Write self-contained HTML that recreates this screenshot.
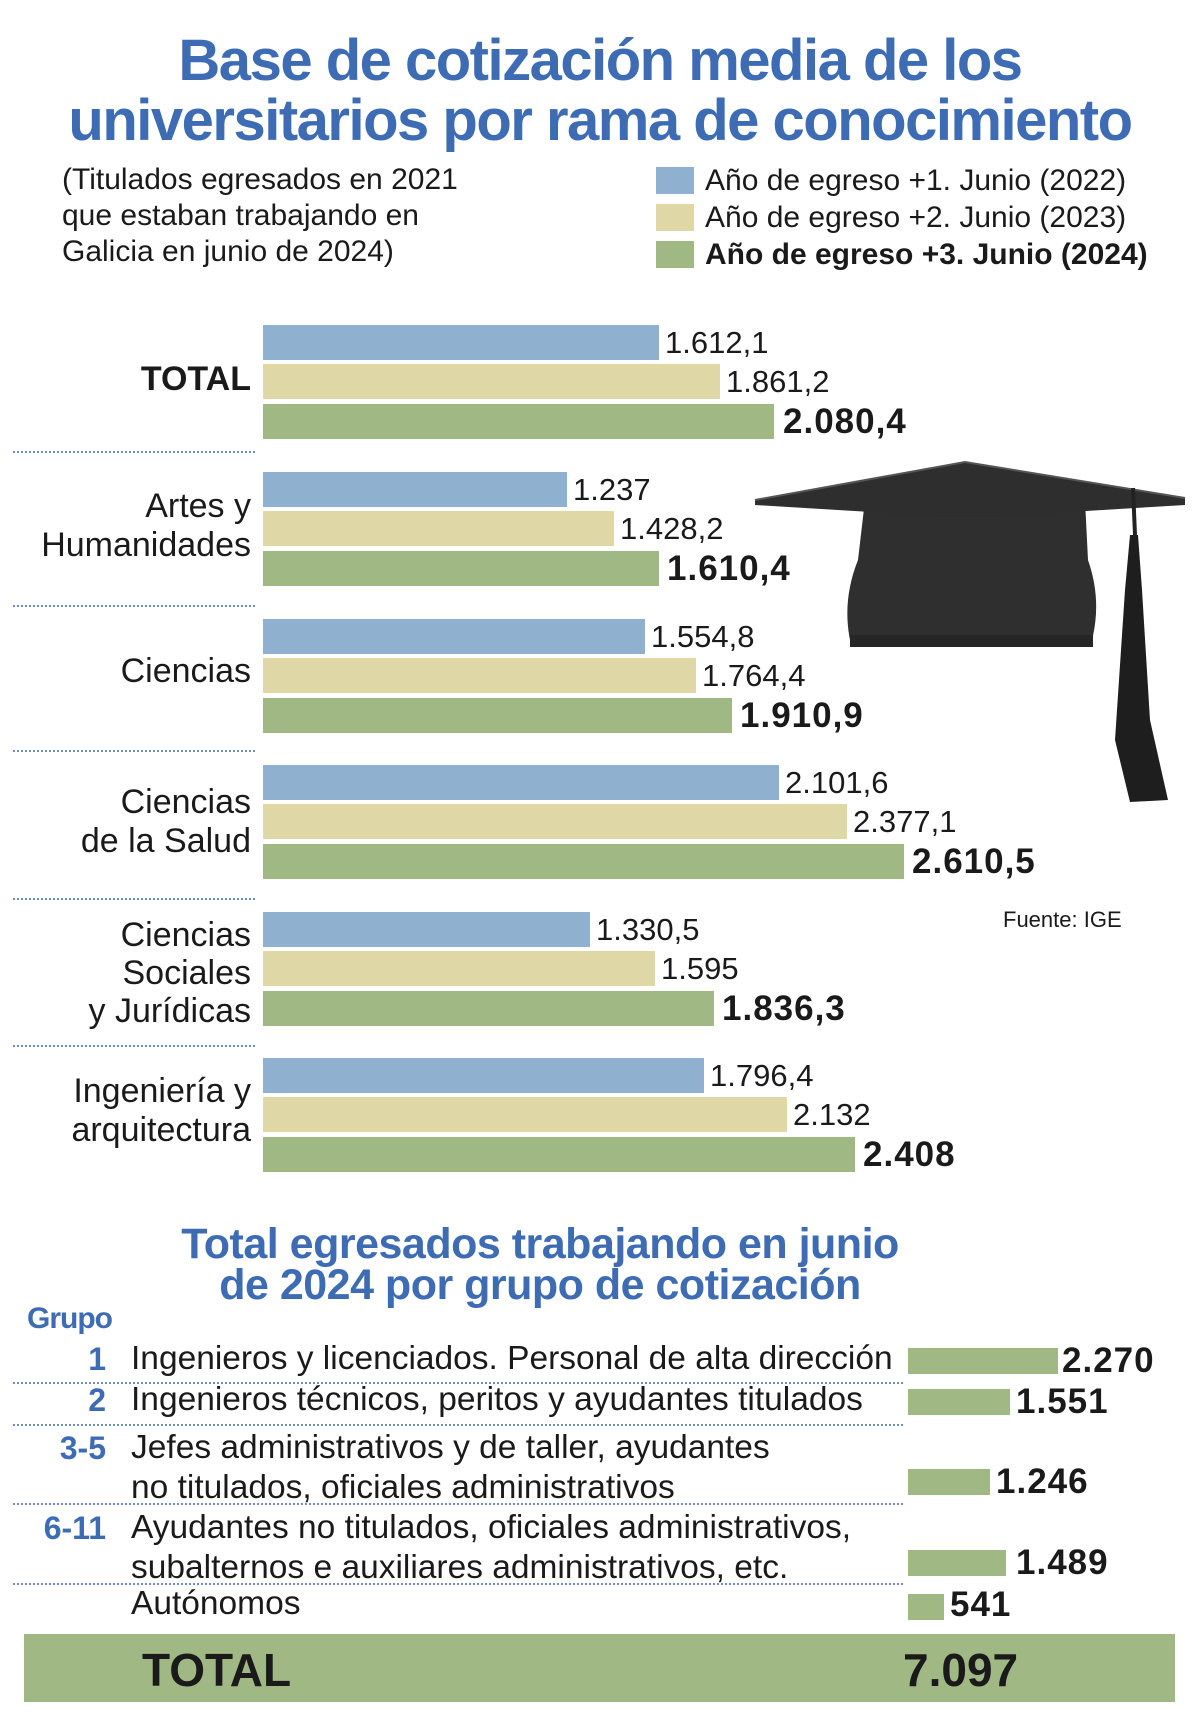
<!DOCTYPE html>
<html><head><meta charset="utf-8"><style>
body{margin:0;width:1200px;height:1715px;background:#fff;position:relative;overflow:hidden;font-family:"Liberation Sans",sans-serif;color:#1a1a1a}
.a{position:absolute;white-space:nowrap}
.t{color:#3d6cb4;font-weight:bold;transform-origin:center}
.bar{position:absolute;height:35px}
.b{background:#8fb0cf}.y{background:#e0d7a6}.g{background:#a0b883}
.v{position:absolute;font-size:31px;line-height:35px}
.vb{font-weight:bold;font-size:35px;letter-spacing:1px}
.lab{position:absolute;right:949px;text-align:right;font-size:34px;line-height:39px}
.dot{position:absolute;left:13px;border-top:2px dotted #6b8fc4;height:0}
.n{position:absolute;right:1094px;color:#3d6cb4;font-weight:bold;font-size:32px}
.tx{position:absolute;left:131px;font-size:33.5px}
.gb{position:absolute;left:908px;height:26px;background:#a0b883}
.gv{position:absolute;font-size:35px;font-weight:bold;line-height:30px;letter-spacing:1px}
</style></head><body>
<div class="a t" style="left:0;width:1200px;text-align:center;top:27px;font-size:58px;letter-spacing:-1.5px">Base de cotización media de los</div>
<div class="a t" style="left:0;width:1200px;text-align:center;top:87px;font-size:58px;letter-spacing:-1.5px">universitarios por rama de conocimiento</div>
<div class="a" style="left:62px;top:162px;font-size:30px;line-height:36px">(Titulados egresados en 2021<br>que estaban trabajando en<br>Galicia en junio de 2024)</div>
<div class="a" style="left:656px;top:167px;width:38px;height:27px;background:#8fb0cf"></div>
<div class="a" style="left:656px;top:204px;width:38px;height:27px;background:#e0d7a6"></div>
<div class="a" style="left:656px;top:241px;width:38px;height:27px;background:#a0b883"></div>
<div class="a" style="left:705px;top:162px;font-size:30px;line-height:37px">Año de egreso +1. Junio (2022)<br>Año de egreso +2. Junio (2023)<br><b>Año de egreso +3. Junio (2024)</b></div>

<div class="bar b" style="left:263px;top:325px;width:396px"></div><div class="v" style="left:665px;top:325px">1.612,1</div>
<div class="bar y" style="left:263px;top:364px;width:457px"></div><div class="v" style="left:726px;top:364px">1.861,2</div>
<div class="bar g" style="left:263px;top:404px;width:511px"></div><div class="v vb" style="left:783px;top:404px">2.080,4</div>
<div class="lab" style="top:360px;font-weight:bold">TOTAL</div>
<div class="dot" style="top:451px;width:242px"></div>

<div class="bar b" style="left:263px;top:472px;width:304px"></div><div class="v" style="left:573px;top:472px">1.237</div>
<div class="bar y" style="left:263px;top:511px;width:351px"></div><div class="v" style="left:620px;top:511px">1.428,2</div>
<div class="bar g" style="left:263px;top:551px;width:396px"></div><div class="v vb" style="left:667px;top:551px">1.610,4</div>
<div class="lab" style="top:487px">Artes y<br>Humanidades</div>
<div class="dot" style="top:605px;width:242px"></div>

<div class="bar b" style="left:263px;top:619px;width:382px"></div><div class="v" style="left:651px;top:619px">1.554,8</div>
<div class="bar y" style="left:263px;top:658px;width:433px"></div><div class="v" style="left:702px;top:658px">1.764,4</div>
<div class="bar g" style="left:263px;top:698px;width:469px"></div><div class="v vb" style="left:740px;top:698px">1.910,9</div>
<div class="lab" style="top:652px">Ciencias</div>
<div class="dot" style="top:750px;width:242px"></div>

<div class="bar b" style="left:263px;top:765px;width:516px"></div><div class="v" style="left:785px;top:765px">2.101,6</div>
<div class="bar y" style="left:263px;top:804px;width:584px"></div><div class="v" style="left:853px;top:804px">2.377,1</div>
<div class="bar g" style="left:263px;top:844px;width:641px"></div><div class="v vb" style="left:912px;top:844px">2.610,5</div>
<div class="lab" style="top:783px">Ciencias<br>de la Salud</div>
<div class="dot" style="top:898px;width:242px"></div>

<div class="bar b" style="left:263px;top:912px;width:327px"></div><div class="v" style="left:596px;top:912px">1.330,5</div>
<div class="bar y" style="left:263px;top:951px;width:392px"></div><div class="v" style="left:661px;top:951px">1.595</div>
<div class="bar g" style="left:263px;top:991px;width:451px"></div><div class="v vb" style="left:722px;top:991px">1.836,3</div>
<div class="lab" style="top:916px;line-height:38px">Ciencias<br>Sociales<br>y Jurídicas</div>
<div class="dot" style="top:1045px;width:242px"></div>

<div class="bar b" style="left:263px;top:1058px;width:441px"></div><div class="v" style="left:710px;top:1058px">1.796,4</div>
<div class="bar y" style="left:263px;top:1097px;width:524px"></div><div class="v" style="left:793px;top:1097px">2.132</div>
<div class="bar g" style="left:263px;top:1137px;width:592px"></div><div class="v vb" style="left:863px;top:1137px">2.408</div>
<div class="lab" style="top:1072px">Ingeniería y<br>arquitectura</div>

<div class="a" style="left:1003px;top:907px;font-size:22px">Fuente: IGE</div>

<svg class="a" style="left:740px;top:440px" width="460" height="420" viewBox="0 0 460 420">
<path d="M125,60 L345,60 L348,120 Q362,160 352,200 L110,200 Q102,160 118,120 Z" fill="#2f2f2f"/>
<rect x="110" y="195" width="243" height="12" fill="#262626"/>
<path d="M15,60 L225,22 L445,58 L445,65 L230,78 L15,65 Z" fill="#2e2e2e"/>
<path d="M15,60 L225,22 L445,58" fill="none" stroke="#555" stroke-width="2"/>
<path d="M393,48 L395,95" stroke="#222" stroke-width="4"/>
<path d="M390,95 L398,95 L402,150 L410,280 L428,360 L390,362 L375,300 L385,150 Z" fill="#1e1e1e"/>
</svg>

<div class="a t" style="left:0;width:1080px;text-align:center;top:1220px;font-size:43px;letter-spacing:-0.5px">Total egresados trabajando en junio</div>
<div class="a t" style="left:0;width:1080px;text-align:center;top:1261px;font-size:43px;letter-spacing:-0.5px">de 2024 por grupo de cotización</div>
<div class="a" style="left:27px;top:1302px;color:#3d6cb4;font-weight:bold;font-size:30px;letter-spacing:-1px">Grupo</div>

<div class="n" style="top:1341px">1</div><div class="tx" style="top:1340px">Ingenieros y licenciados. Personal de alta dirección</div>
<div class="gb" style="top:1348px;width:150px"></div><div class="gv" style="left:1062px;top:1346px">2.270</div>
<div class="dot" style="top:1382px;width:890px"></div>
<div class="n" style="top:1382px">2</div><div class="tx" style="top:1381px">Ingenieros técnicos, peritos y ayudantes titulados</div>
<div class="gb" style="top:1389px;width:102px"></div><div class="gv" style="left:1016px;top:1387px">1.551</div>
<div class="dot" style="top:1424px;width:890px"></div>
<div class="n" style="top:1430px">3-5</div><div class="tx" style="top:1428px;line-height:40px">Jefes administrativos y de taller, ayudantes<br>no titulados, oficiales administrativos</div>
<div class="gb" style="top:1469px;width:82px"></div><div class="gv" style="left:996px;top:1467px">1.246</div>
<div class="dot" style="top:1503px;width:890px"></div>
<div class="n" style="top:1510px">6-11</div><div class="tx" style="top:1508px;line-height:40px">Ayudantes no titulados, oficiales administrativos,<br>subalternos e auxiliares administrativos, etc.</div>
<div class="gb" style="top:1550px;width:98px"></div><div class="gv" style="left:1016px;top:1548px">1.489</div>
<div class="dot" style="top:1583px;width:890px"></div>
<div class="tx" style="top:1585px">Autónomos</div>
<div class="gb" style="top:1594px;width:36px"></div><div class="gv" style="left:950px;top:1590px">541</div>

<div class="a" style="left:24px;top:1634px;width:1151px;height:68px;background:#a0b883"></div>
<div class="a" style="left:142px;top:1643px;font-size:46px;font-weight:bold">TOTAL</div>
<div class="a" style="left:903px;top:1643px;font-size:46px;font-weight:bold">7.097</div>
</body></html>
